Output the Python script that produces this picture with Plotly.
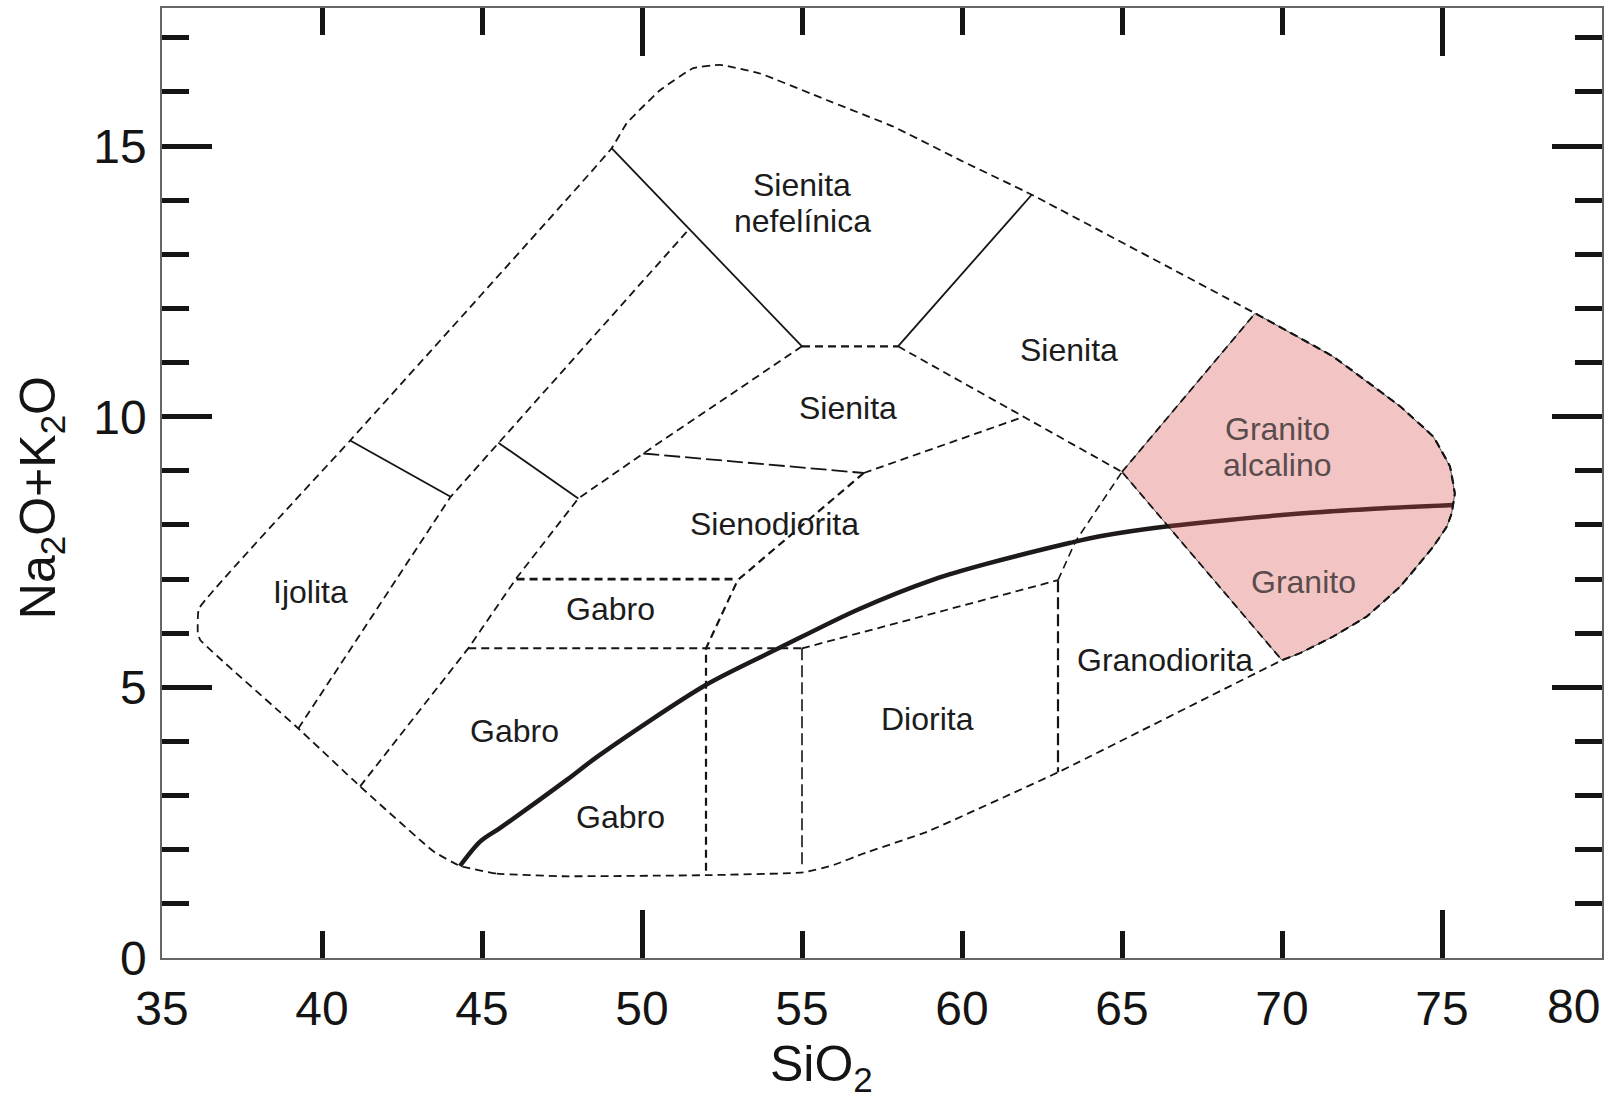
import plotly.graph_objects as go

# ---------------- data ----------------
x_tick_vals = [35, 40, 45, 50, 55, 60, 65, 70, 75]
x_last_tick = 80
y_tick_vals = [0, 5, 10, 15]
x_short_ticks = [40, 45, 55, 60, 65, 70]
x_long_ticks = [50, 75]
y_short_ticks = [1, 2, 3, 4, 6, 7, 8, 9, 11, 12, 13, 14, 16, 17]
y_long_ticks = [5, 10, 15]

# outer field boundary (dashed)
outer_x = [44.31, 45.46, 47.54, 52.02, 55.04, 56.0, 56.92, 58.9, 63.0, 70.0, 70.56, 71.6, 72.65,
           73.69, 74.73, 75.15, 75.3, 75.4, 75.25, 74.73, 73.69, 71.6, 69.16, 62.18, 59.94, 57.85,
           55.77, 53.69, 52.44, 51.6, 50.56, 49.52, 49.05, 40.88, 36.15, 36.12, 36.2, 39.26, 41.19,
           43.48, 44.31]
outer_y = [1.70, 1.56, 1.51, 1.53, 1.58, 1.72, 1.93, 2.33, 3.43, 5.5, 5.63, 5.94, 6.31,
           6.86, 7.6, 7.97, 8.21, 8.58, 9.08, 9.63, 10.19, 11.11, 11.91, 14.1, 14.74, 15.36,
           15.85, 16.34, 16.5, 16.44, 16.03, 15.42, 14.96, 9.56, 6.45, 6.0, 5.87, 4.24, 3.17,
           1.97, 1.70]

# alkali-granite / granite field (pink)
pink_x = [65.0, 69.16, 71.6, 73.69, 74.73, 75.25, 75.4, 75.3, 75.15, 74.73, 73.69, 72.65, 71.6, 70.56, 70.0, 65.0]
pink_y = [8.98, 11.91, 11.11, 10.19, 9.63, 9.08, 8.58, 8.21, 7.97, 7.6, 6.86, 6.31, 5.94, 5.63, 5.5, 8.98]

# alkaline / subalkaline divide (thick curve)
curve_x = [44.31, 44.94, 45.56, 47.65, 48.65, 51.98, 54.3, 56.72, 59.15, 60.76, 63.39, 64.31, 66.5, 70.56, 72.88, 75.35]
curve_y = [1.70, 2.15, 2.40, 3.29, 3.74, 5.04, 5.73, 6.43, 7.00, 7.28, 7.67, 7.79, 7.98, 8.21, 8.30, 8.37]

# solid field boundaries
ijolita_top_x = [40.88, 44.02]
ijolita_top_y = [9.56, 8.52]
sienita_left_x = [45.51, 48.01]
sienita_left_y = [9.52, 8.49]
nefelinica_left_x = [49.05, 55.0]
nefelinica_left_y = [14.96, 11.3]
nefelinica_right_x = [58.0, 62.18]
nefelinica_right_y = [11.3, 14.1]

# dashed field boundaries
ijolita_right_x = [39.26, 44.02, 51.45]
ijolita_right_y = [4.24, 8.52, 13.45]
gabro_left_x = [41.19, 44.57, 46.08, 48.01, 50.04, 55.0]
gabro_left_y = [3.17, 5.72, 7.02, 8.49, 9.32, 11.3]
sienita_top_x = [55.0, 58.0]
sienita_top_y = [11.3, 11.3]
sienita_right_x = [58.0, 61.94, 65.0]
sienita_right_y = [11.3, 10.0, 8.98]
sienodiorita_top_x = [50.04, 56.93]
sienodiorita_top_y = [9.32, 8.96]
sienita_bottom_x = [56.93, 61.94]
sienita_bottom_y = [8.96, 10.0]
sienodiorita_right_x = [56.93, 52.99, 52.0, 52.0]
sienodiorita_right_y = [8.96, 6.98, 5.72, 1.53]
gabro_top_x = [46.08, 52.99]
gabro_top_y = [7.0, 7.0]
gabro_mid_x = [44.57, 55.0]
gabro_mid_y = [5.72, 5.72]
diorita_left_x = [55.0, 55.0]
diorita_left_y = [5.72, 1.72]
diorita_top_x = [55.0, 63.0]
diorita_top_y = [5.72, 6.98]
diorita_right_x = [63.0, 63.0]
diorita_right_y = [6.98, 3.43]
granodiorita_top_x = [63.0, 63.55, 65.0]
granodiorita_top_y = [6.98, 7.7, 8.98]

# field names
label_text = ["Sienita", "nefelínica", "Sienita", "Sienita", "Granito", "alcalino", "Sienodiorita",
              "Ijolita", "Gabro", "Granito", "Granodiorita", "Gabro", "Diorita", "Gabro"]
label_x = [55.0, 55.0, 63.35, 56.44, 69.87, 69.87, 54.13, 39.64, 49.02, 70.66, 66.33, 46.03, 58.92, 49.34]
label_y = [14.28, 13.61, 11.24, 10.16, 9.78, 9.11, 8.01, 6.77, 6.45, 6.95, 5.51, 4.19, 4.42, 2.6]
label_in_pink = [False, False, False, False, True, True, False, False, False, True, False, False, False, False]

# ---------------- figure ----------------
FONT = "Liberation Sans, Arial, sans-serif"
INK = "#141414"
DASH = "8px,5px"

fig = go.Figure()

solid_lines = [
    (ijolita_top_x, ijolita_top_y),
    (sienita_left_x, sienita_left_y),
    (nefelinica_left_x, nefelinica_left_y),
    (nefelinica_right_x, nefelinica_right_y),
]
dashed_lines = [
    (ijolita_right_x, ijolita_right_y, 1.8, DASH),
    (gabro_left_x, gabro_left_y, 1.8, DASH),
    (sienita_top_x, sienita_top_y, 2.2, DASH),
    (sienita_right_x, sienita_right_y, 1.8, DASH),
    (sienodiorita_top_x, sienodiorita_top_y, 1.8, "16px,5px"),
    (sienita_bottom_x, sienita_bottom_y, 1.8, DASH),
    (sienodiorita_right_x, sienodiorita_right_y, 2.2, DASH),
    (gabro_top_x, gabro_top_y, 2.6, DASH),
    (gabro_mid_x, gabro_mid_y, 2.0, DASH),
    (diorita_left_x, diorita_left_y, 1.6, "12px,5px"),
    (diorita_top_x, diorita_top_y, 1.8, DASH),
    (diorita_right_x, diorita_right_y, 2.2, "12px,5px"),
    (granodiorita_top_x, granodiorita_top_y, 1.6, DASH),
]

for xs, ys in solid_lines:
    fig.add_trace(go.Scatter(x=xs, y=ys, mode="lines", line=dict(color=INK, width=1.8),
                             hoverinfo="skip", showlegend=False))
for xs, ys, w, d in dashed_lines:
    fig.add_trace(go.Scatter(x=xs, y=ys, mode="lines", line=dict(color=INK, width=w, dash=d),
                             hoverinfo="skip", showlegend=False))

# thick divide curve
fig.add_trace(go.Scatter(x=curve_x, y=curve_y, mode="lines",
                         line=dict(color="#1e1a1a", width=4.5, shape="spline", smoothing=0.8),
                         hoverinfo="skip", showlegend=False))

# pink field on top (semi-transparent), thin solid edge plus dashed overlay
fig.add_trace(go.Scatter(x=pink_x, y=pink_y, mode="lines", fill="toself",
                         fillcolor="rgba(214,70,70,0.32)",
                         line=dict(color="#555555", width=1.0),
                         hoverinfo="skip", showlegend=False))
fig.add_trace(go.Scatter(x=pink_x, y=pink_y, mode="lines",
                         line=dict(color=INK, width=1.8, dash=DASH),
                         hoverinfo="skip", showlegend=False))

# outer boundary
fig.add_trace(go.Scatter(x=outer_x, y=outer_y, mode="lines",
                         line=dict(color=INK, width=1.8, dash=DASH, shape="spline", smoothing=0.3),
                         hoverinfo="skip", showlegend=False))

# dummy traces so the tick-only overlay axes exist
fig.add_trace(go.Scatter(x=[None], y=[None], xaxis="x2", yaxis="y2", showlegend=False, hoverinfo="skip"))
fig.add_trace(go.Scatter(x=[None], y=[None], xaxis="x3", yaxis="y3", showlegend=False, hoverinfo="skip"))

for t, x, y, p in zip(label_text, label_x, label_y, label_in_pink):
    fig.add_annotation(x=x, y=y, xref="x", yref="y", text=t, showarrow=False,
                       font=dict(family=FONT, size=32, color="#5a4c4c" if p else "#1c1c1c"),
                       xanchor="center", yanchor="middle")

tickfont = dict(family=FONT, size=48, color=INK)

# last x tick label, pulled inside the page like in the original
fig.add_annotation(x=x_last_tick, y=0, xref="x", yref="paper", xanchor="right", yanchor="middle",
                   yshift=-48, text=str(x_last_tick), showarrow=False, font=tickfont)

# axis titles
fig.add_annotation(xref="paper", yref="paper", x=0.458, y=0, yanchor="top", yshift=-76,
                   text="SiO<sub>2</sub>", showarrow=False,
                   font=dict(family=FONT, size=50, color=INK))
fig.add_annotation(xref="paper", yref="paper", x=0, y=0.484, xanchor="center", yanchor="middle",
                   xshift=-121, textangle=-90, text="Na<sub>2</sub>O+K<sub>2</sub>O", showarrow=False,
                   font=dict(family=FONT, size=50, color=INK))

XR = [35, 80]
YR = [0, 17.55]

fig.update_layout(
    template="none",
    width=1612, height=1096,
    margin=dict(l=162, r=10, t=8, b=138),
    paper_bgcolor="white", plot_bgcolor="white",
    xaxis=dict(range=XR, tickvals=x_tick_vals, ticks="", showline=True, linecolor="#666666",
               linewidth=1.5, mirror=True, showgrid=False, zeroline=False, tickfont=tickfont,
               ticklabelstandoff=8, automargin=False, ticklabeloverflow="allow"),
    yaxis=dict(range=YR, tickvals=y_tick_vals, ticks="", showline=True, linecolor="#666666",
               linewidth=1.5, mirror=True, showgrid=False, zeroline=False, tickfont=tickfont,
               ticklabelstandoff=4, automargin=False, ticklabeloverflow="allow"),
    xaxis2=dict(range=XR, overlaying="x", anchor="y2", side="bottom", tickvals=x_short_ticks,
                ticks="inside", ticklen=27, tickwidth=4.5, tickcolor=INK, mirror="ticks",
                showticklabels=False, showgrid=False, zeroline=False, showline=False, automargin=False),
    yaxis2=dict(range=YR, overlaying="y", anchor="x2", side="left", tickvals=y_short_ticks,
                ticks="inside", ticklen=27, tickwidth=4.5, tickcolor=INK, mirror="ticks",
                showticklabels=False, showgrid=False, zeroline=False, showline=False, automargin=False),
    xaxis3=dict(range=XR, overlaying="x", anchor="y3", side="bottom", tickvals=x_long_ticks,
                ticks="inside", ticklen=48, tickwidth=4.5, tickcolor=INK, mirror="ticks",
                showticklabels=False, showgrid=False, zeroline=False, showline=False, automargin=False),
    yaxis3=dict(range=YR, overlaying="y", anchor="x3", side="left", tickvals=y_long_ticks,
                ticks="inside", ticklen=50, tickwidth=4.5, tickcolor=INK, mirror="ticks",
                showticklabels=False, showgrid=False, zeroline=False, showline=False, automargin=False),
)

fig.write_html("out.html", config={"displayModeBar": False},
               post_script="document.body.style.margin='0px'; document.body.style.overflow='hidden';")
